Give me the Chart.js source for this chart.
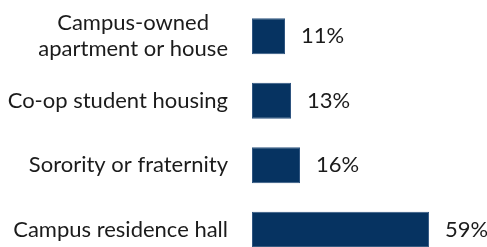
<!DOCTYPE html>
<html>
<head>
<meta charset="utf-8">
<script src="https://cdn.jsdelivr.net/npm/chart.js@4"></script>
<style>
  html, body { margin: 0; padding: 0; background: #fff; overflow: hidden; }
  #wrap { width: 487px; height: 262px; }
</style>
</head>
<body>
<div id="wrap"><canvas id="housing"></canvas></div>
<script>
const categories = [
  ['Campus-owned', 'apartment or house'],
  'Co-op student housing',
  'Sorority or fraternity',
  'Campus residence hall'
];
const shares = [11, 13, 16, 59];

const labelFont = '22px Lato';
const textColor = '#1b1b1b';

// draws the category names left of the bars and the % values right of them
const barLabels = {
  id: 'barLabels',
  afterDatasetsDraw(chart) {
    const ctx = chart.ctx;
    const meta = chart.getDatasetMeta(0);
    const left = chart.chartArea.left;
    ctx.save();
    ctx.font = labelFont;
    ctx.fillStyle = textColor;
    ctx.textBaseline = 'middle';
    meta.data.forEach((bar, i) => {
      const cat = categories[i];
      const lines = Array.isArray(cat) ? cat : [cat];
      const right = left - 24;
      const widest = Math.max(...lines.map(l => ctx.measureText(l).width));
      const lineH = 26;
      lines.forEach((line, j) => {
        const y = bar.y + (j - (lines.length - 1) / 2) * lineH;
        if (lines.length > 1) {
          ctx.textAlign = 'center';
          ctx.fillText(line, right - widest / 2, y);
        } else {
          ctx.textAlign = 'right';
          ctx.fillText(line, right, y);
        }
      });
      ctx.textAlign = 'left';
      ctx.fillText(shares[i] + '%', bar.x + 16, bar.y);
    });
    ctx.restore();
  }
};

new Chart(document.getElementById('housing'), {
  type: 'bar',
  data: {
    labels: categories,
    datasets: [{
      data: shares,
      backgroundColor: '#063361',
      borderColor: '#2f5580',
      borderWidth: 1,
      borderSkipped: false,
      categoryPercentage: 1,
      barPercentage: 0.56
    }]
  },
  options: {
    indexAxis: 'y',
    responsive: true,
    maintainAspectRatio: false,
    animation: false,
    layout: { padding: { left: 252, right: 0, top: 4, bottom: 0 } },
    plugins: {
      legend: { display: false },
      tooltip: { enabled: false }
    },
    scales: {
      x: { display: false, min: 0, max: 78.3 },
      y: { display: false }
    }
  },
  plugins: [barLabels]
});
</script>
</body>
</html>
